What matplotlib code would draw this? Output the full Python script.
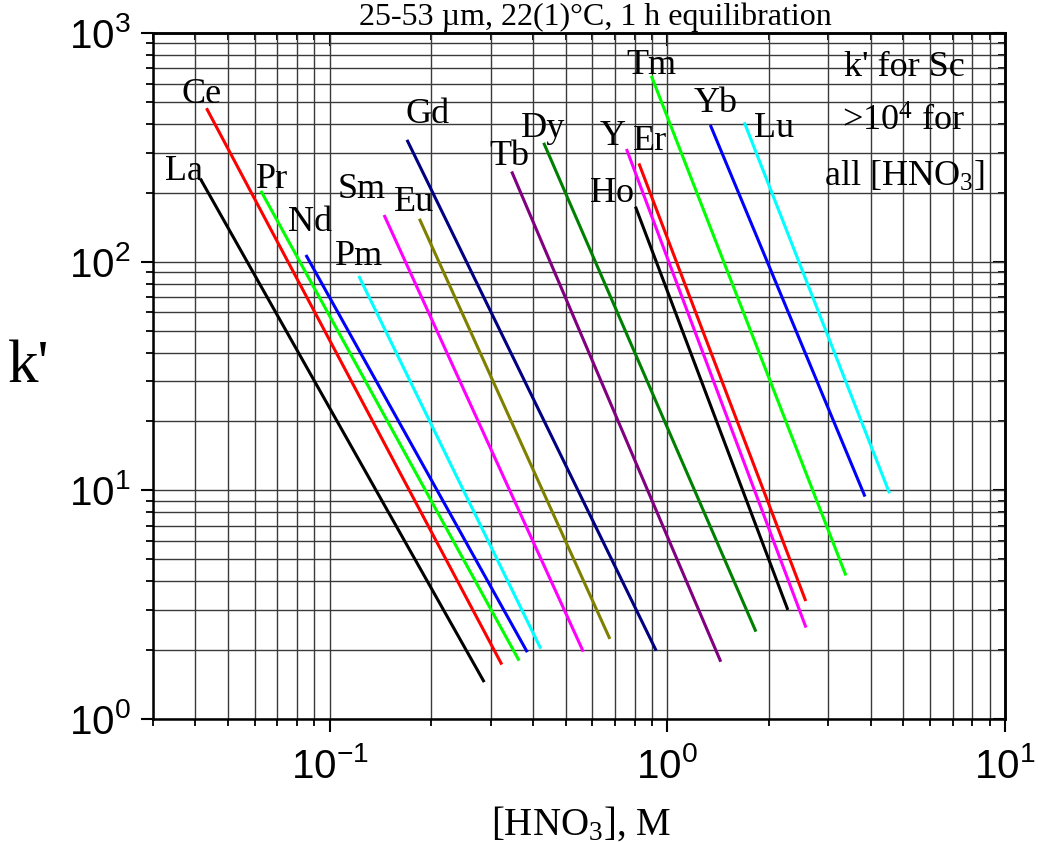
import numpy as np
import matplotlib
matplotlib.use("Agg")
import matplotlib.pyplot as plt
from matplotlib.ticker import LogLocator, FuncFormatter, NullFormatter

plt.rcParams['font.family'] = ['Liberation Serif', 'DejaVu Serif']
plt.rcParams['mathtext.fontset'] = 'custom'
plt.rcParams['mathtext.rm'] = 'Liberation Serif'
plt.rcParams['mathtext.it'] = 'Liberation Serif:italic'
plt.rcParams['mathtext.bf'] = 'Liberation Serif:bold'
plt.rcParams['mathtext.sf'] = 'Liberation Sans'

# k' fitted lines, given by their two end points
elements = ['La', 'Ce', 'Pr', 'Nd', 'Pm', 'Sm', 'Eu', 'Gd',
            'Tb', 'Dy', 'Ho', 'Y', 'Er', 'Tm', 'Yb', 'Lu']
hno3_lo = [0.0414, 0.0432, 0.0626, 0.0851, 0.122, 0.145, 0.1845, 0.1695,
           0.346, 0.4305, 0.805, 0.757, 0.824, 0.897, 1.341, 1.69]
hno3_hi = [0.287, 0.3236, 0.364, 0.385, 0.422, 0.564, 0.676, 0.927,
           1.44, 1.83, 2.275, 2.575, 2.57, 3.38, 3.85, 4.55]
k_lo = [231, 469, 204, 107, 86.6, 160, 154, 341,
        248, 331, 174, 311, 269, 649, 396, 407]
k_hi = [1.45, 1.73, 1.80, 1.96, 2.03, 1.97, 2.24, 1.99,
        1.78, 2.41, 3.0, 2.51, 3.28, 4.24, 9.39, 9.71]

colors = ['black', '#ff0000', '#00ff00', '#0000ff', '#00ffff', '#ff00ff', '#808000', '#000080',
          '#800080', '#008000', 'black', '#ff00ff', '#ff0000', '#00ff00', '#0000ff', '#00ffff']
# where each element name sits (data coords)
lab_x = [0.0370, 0.0418, 0.0674, 0.0873, 0.122, 0.1245, 0.1784, 0.195,
         0.341, 0.4296, 0.687, 0.687, 0.891, 0.897, 1.387, 2.07]
lab_y = [247, 536, 228, 148, 105, 206, 181, 442,
         287, 384, 198, 351, 337, 724, 494, 384]

fig = plt.figure(figsize=(10.38, 8.42), dpi=100)
ax = fig.add_axes([153 / 1038, 1 - 719 / 842, 852 / 1038, 686 / 842])
ax.set_xscale('log')
ax.set_yscale('log')
ax.set_xlim(0.03, 10)
ax.set_ylim(1, 1000)

for i, el in enumerate(elements):
    ax.plot([hno3_lo[i], hno3_hi[i]], [k_lo[i], k_hi[i]], color=colors[i], lw=2.2,
            solid_capstyle='butt')
    ax.text(lab_x[i], lab_y[i], el, fontsize=26, ha='center', va='center')

ax.text(5.02, 703, "k' for Sc", fontsize=26, ha='center', va='center')
ax.text(5.02, 408, r'>10$^{4}$ for', fontsize=26, ha='center', va='center')
ax.text(5.02, 234, r'all [HNO$_{3}$]', fontsize=26, ha='center', va='center')

ax.grid(which='both', color='#3a3a3a', lw=1.0)

sup = FuncFormatter(lambda v, p: r'$\mathsf{10^{%d}}$' % int(round(np.log10(v))))
for axis in (ax.xaxis, ax.yaxis):
    axis.set_major_locator(LogLocator(base=10))
    axis.set_minor_locator(LogLocator(base=10, subs=np.arange(2, 10)))
    axis.set_major_formatter(sup)
    axis.set_minor_formatter(NullFormatter())

ax.tick_params(which='major', direction='out', length=9, width=1.5, labelsize=29, pad=7)
ax.tick_params(which='minor', direction='out', length=5, width=1.3)
ax.tick_params(axis='x', which='major', pad=12)
for s in ax.spines.values():
    s.set_linewidth(1.8)

# inward ticks on the top and right frame
top = ax.secondary_xaxis('top')
right = ax.secondary_yaxis('right')
for sec, axis in ((top, top.xaxis), (right, right.yaxis)):
    axis.set_major_locator(LogLocator(base=10))
    axis.set_minor_locator(LogLocator(base=10, subs=np.arange(2, 10)))
    axis.set_major_formatter(NullFormatter())
    axis.set_minor_formatter(NullFormatter())
    sec.tick_params(which='major', direction='in', length=9, width=1.5)
    sec.tick_params(which='minor', direction='in', length=5, width=1.3)
    for s in sec.spines.values():
        s.set_linewidth(1.8)

fig.text(595 / 1038, 1 - 25 / 842, u'25-53 \u00b5m, 22(1)\u00b0C, 1 h equilibration',
         fontsize=23, ha='center', va='baseline')
fig.text(581 / 1038, 1 - 835 / 842, r'[HNO$_{3}$], M', fontsize=28, ha='center', va='baseline')
fig.text(29 / 1038, 1 - 367 / 842, "k'", fontsize=44, ha='center', va='center')

fig.savefig('out.png', dpi=100)
